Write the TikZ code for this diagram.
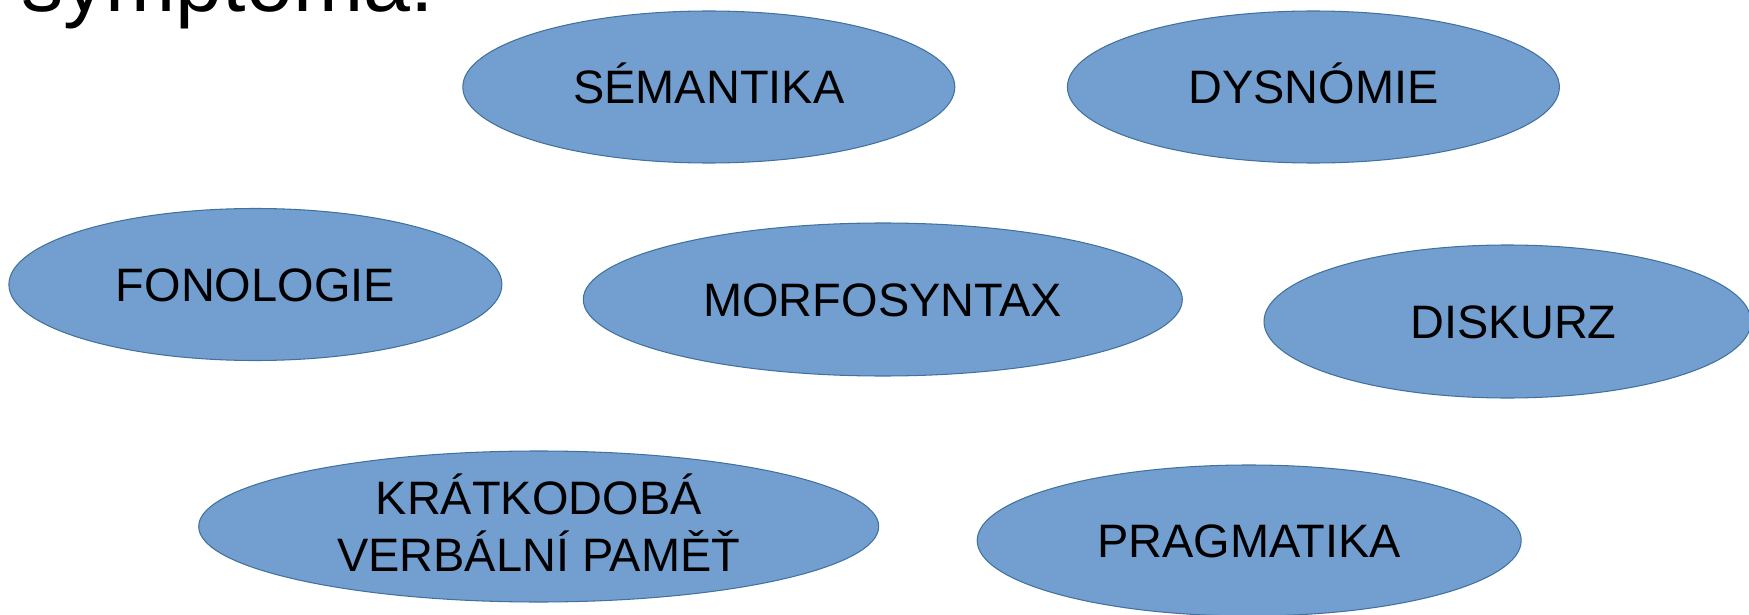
\documentclass[tikz,border=0pt]{standalone}
\usepackage{fontspec}
\setmainfont{Liberation Sans}
\usetikzlibrary{shapes.geometric}
\definecolor{fillc}{RGB}{114,159,207}
\definecolor{edgec}{RGB}{65,113,156}
\tikzset{
  oval/.style 2 args={ellipse, draw=edgec, line width=0.6pt, fill=fillc,
    minimum width=#1*0.02cm, minimum height=#2*0.02cm, inner sep=0pt,
    align=center, font=\fontsize{26.7}{32}\selectfont,
    text height=19.1pt, text depth=0pt},
  title/.style={anchor=base west, inner sep=0pt, font=\fontsize{48}{52}\selectfont}
}
\begin{document}
\begin{tikzpicture}[x=0.02cm,y=-0.02cm]
\useasboundingbox (0,0) rectangle (1749,615);
\node[title] (t) at (21,12) {symptoma:};
\node[oval={492}{152}] (sem) at (708.8,87) {SÉMANTIKA};
\node[oval={492}{152}] (dys) at (1313.4,87) {DYSNÓMIE};
\node[oval={493}{152}] (fon) at (255.4,284.5) {FONOLOGIE};
\node[oval={599}{153}] (mor) at (882.8,299.5) {MORFOSYNTAX};
\node[oval={487}{153}] (dis) at (1507.5,321.5) {\hspace*{7pt}DISKURZ};
\node[oval={680}{151}, text height=50.9pt] (kra) at (538.7,526.5) {KRÁTKODOBÁ\\VERBÁLNÍ PAMĚŤ};
\node[oval={544}{151}] (pra) at (1249.2,540.5) {PRAGMATIKA};
\end{tikzpicture}
\end{document}
